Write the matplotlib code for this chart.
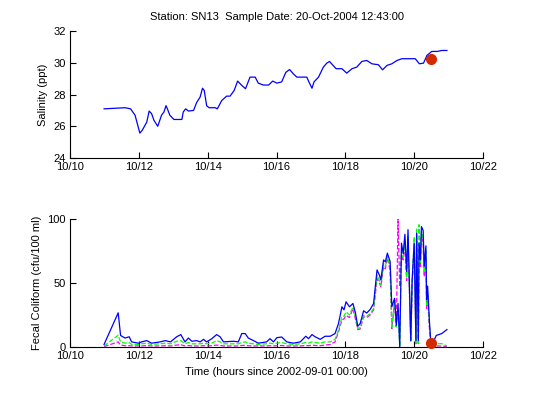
import numpy as np
import matplotlib
matplotlib.use('Agg')
from matplotlib import pyplot as plt

plt.rcParams['font.family'] = ['Liberation Sans', 'DejaVu Sans']
plt.rcParams['font.size'] = 8

# tiempo en dias desde 10/10
sal_t = [0.99, 1.6, 1.76, 1.89, 2.03, 2.1, 2.23, 2.3, 2.37, 2.44, 2.55, 2.66, 2.73, 2.79, 2.83,
         2.9, 3.02, 3.25, 3.29, 3.36, 3.44, 3.59, 3.68, 3.78, 3.85, 3.9, 3.97, 4.04, 4.22, 4.28,
         4.41, 4.55, 4.65, 4.77, 4.87, 4.99, 5.1, 5.23, 5.38, 5.47, 5.62, 5.77, 5.89, 6.01, 6.15,
         6.27, 6.38, 6.49, 6.59, 6.88, 6.93, 7.03, 7.09, 7.22, 7.36, 7.46, 7.54, 7.6, 7.73, 7.9,
         8.04, 8.19, 8.33, 8.48, 8.62, 8.77, 8.96, 9.08, 9.21, 9.35, 9.5, 9.64, 10.03, 10.15,
         10.27, 10.37, 10.51, 10.67, 10.8, 10.95]
sal = [27.1, 27.17, 27.1, 26.7, 25.57, 25.75, 26.26, 26.96, 26.8, 26.37, 26.0, 26.7, 26.9, 27.3, 27.1,
       26.7, 26.43, 26.43, 26.9, 27.1, 26.96, 27.0, 27.5, 27.84, 28.4, 28.26, 27.3, 27.17, 27.17, 27.1,
       27.63, 27.9, 27.9, 28.26, 28.85, 28.58, 28.37, 29.1, 29.1, 28.72, 28.6, 28.6, 28.85, 28.72, 28.8,
       29.4, 29.58, 29.3, 29.1, 29.1, 28.85, 28.4, 28.8, 29.1, 29.73, 29.98, 30.09, 29.94, 29.63, 29.63,
       29.35, 29.63, 29.73, 30.09, 30.15, 29.94, 29.88, 29.56, 29.84, 29.94, 30.15, 30.26, 30.26, 29.94,
       29.98, 30.47, 30.72, 30.72, 30.78, 30.78]

fc_t = [0.99, 1.4, 1.47, 1.6, 1.72, 1.79, 1.99, 2.08, 2.23, 2.37, 2.62, 2.77, 2.92, 3.1, 3.22,
        3.34, 3.44, 3.54, 3.68, 3.78, 3.88, 3.97, 4.12, 4.26, 4.36, 4.46, 4.75, 4.89, 4.99, 5.09,
        5.18, 5.33, 5.47, 5.71, 5.81, 5.91, 6.01, 6.15, 6.3, 6.49, 6.69, 6.85, 6.93, 7.03, 7.12,
        7.27, 7.41, 7.56, 7.7, 7.8, 7.9, 7.96, 8.02, 8.12, 8.22, 8.29, 8.36, 8.43, 8.53, 8.62,
        8.72, 8.82, 8.92, 8.99, 9.03, 9.11, 9.16, 9.22, 9.3, 9.35, 9.43, 9.48, 9.53, 9.58, 9.63,
        9.68, 9.73, 9.78, 9.82, 9.87, 9.9, 9.94, 10.0, 10.05, 10.07, 10.12, 10.14, 10.18, 10.21,
        10.26, 10.29, 10.34, 10.36, 10.39, 10.44, 10.49, 10.64, 10.8, 10.95]
fc_blue = [2, 26.7, 9, 7, 8, 4, 3, 4, 5, 3, 4, 5, 4, 8, 9.7,
           4, 7, 4.5, 5, 4, 6, 4, 6.5, 9.7, 8, 4, 4.5, 4, 10.5, 10.5,
           7, 5, 3, 4, 6.5, 4, 7.3, 7.8, 4, 3, 4, 8.4, 6.5, 9.7, 8,
           6, 8.4, 8.4, 10.5, 18.3, 31.4, 29, 35.3, 31.4, 34, 27, 16.2, 18.3, 28.3, 26.5,
           29.3, 34, 60.2, 56, 52.4, 68, 66.5, 73.3, 66.8, 31.4, 38, 17, 34, 0, 81,
           73, 88, 59, 91.6, 39, 5, 52.4, 81, 5, 89, 5, 81, 68, 94,
           91, 63, 79, 37, 47.6, 21, 0, 9, 10.5, 13.6]
fc_green = [0.8, 9.2, 4, 3, 3.5, 2, 2, 2.5, 3, 2, 2.5, 3, 2.5, 4.5, 5,
            2.5, 3.5, 2.5, 2.5, 2.5, 3, 2.5, 3, 5, 4, 2.5, 2.5, 2.5, 3.5, 4,
            3, 2.5, 2, 2.5, 3, 2.5, 3, 3.5, 2.5, 2, 2.5, 3.5, 3, 4, 3.5,
            3, 4, 4, 6, 13, 23.6, 24, 27.5, 25, 31.4, 24, 14.6, 15, 24.6, 24,
            26, 30, 56, 52, 48, 65, 63, 70.5, 63.5, 15.7, 36.6, 16, 30, 0, 75,
            70, 84, 55, 86, 35, 5, 50, 86, 3, 92, 3, 95.5, 66, 90,
            85, 58, 75, 33, 42, 18, 1.5, 2.6, 2.6, 0.8]
fc_mag = [0.3, 4, 1.5, 1, 1, 0.8, 0.8, 0.8, 1, 0.8, 0.8, 1, 0.8, 1.5, 1.8,
          0.8, 1.2, 0.8, 0.8, 0.8, 1, 0.8, 1, 1.5, 1.2, 0.8, 0.8, 0.8, 1.2, 1.3,
          1, 0.8, 0.8, 0.8, 1, 0.8, 1, 1.2, 0.8, 0.8, 0.8, 1.2, 1, 1.5, 1.2,
          1, 1.5, 2, 4, 11.8, 21, 22, 24.6, 23, 30, 22, 13.6, 14, 23.6, 23,
          25, 29, 53.4, 50, 47, 62.8, 61, 69.6, 60, 14.4, 35, 15.7, 100, 47, 72,
          68, 80, 52, 84, 33, 4, 48, 80, 2.6, 85, 2.6, 80, 62, 87,
          80, 55, 70, 30, 40, 15, 0.8, 0.8, 0.8, 0.3]

muestra_t = 10.5
muestra_sal = 30.25
muestra_fc = 3

xticks = [0, 2, 4, 6, 8, 10, 12]
xlabels = ['10/10', '10/12', '10/14', '10/16', '10/18', '10/20', '10/22']

fig = plt.figure(figsize=(5.33, 3.99), dpi=100)
ax1 = fig.add_axes([0.1313, 0.604, 0.775, 0.318])
ax2 = fig.add_axes([0.1313, 0.1303, 0.775, 0.321])

ax1.plot(sal_t, sal, color='b', lw=0.9)
ax1.plot(muestra_t, muestra_sal, 'o', color='#d42a00', ms=7)
ax1.set_ylim(24, 32)
ax1.set_yticks([24, 26, 28, 30, 32])
ax1.set_ylabel('Salinity (ppt)')
ax1.set_title('Station: SN13  Sample Date: 20-Oct-2004 12:43:00', fontsize=8, pad=8)

# azul encima de las otras dos
ax2.plot(fc_t, fc_mag, '--', color='#ff00ff', lw=0.9, zorder=2)
ax2.plot(fc_t, fc_green, '--', color='#00ff00', lw=0.9, zorder=3)
ax2.plot(fc_t, fc_blue, color='b', lw=0.9, zorder=4)
ax2.plot(muestra_t, muestra_fc, 'o', color='#d42a00', ms=7, clip_on=False, zorder=5)
ax2.set_ylim(0, 100)
ax2.set_yticks([0, 50, 100])
ax2.set_ylabel('Fecal Coliform (cfu/100 ml)')
ax2.set_xlabel('Time (hours since 2002-09-01 00:00)')

for ax in (ax1, ax2):
    ax.set_xlim(0, 12)
    ax.set_xticks(xticks)
    ax.set_xticklabels(xlabels)
    ax.spines['top'].set_visible(False)
    ax.spines['right'].set_visible(False)
    ax.tick_params(direction='in', length=4, width=0.8, pad=3)

fig.savefig('out.png', dpi=100)
